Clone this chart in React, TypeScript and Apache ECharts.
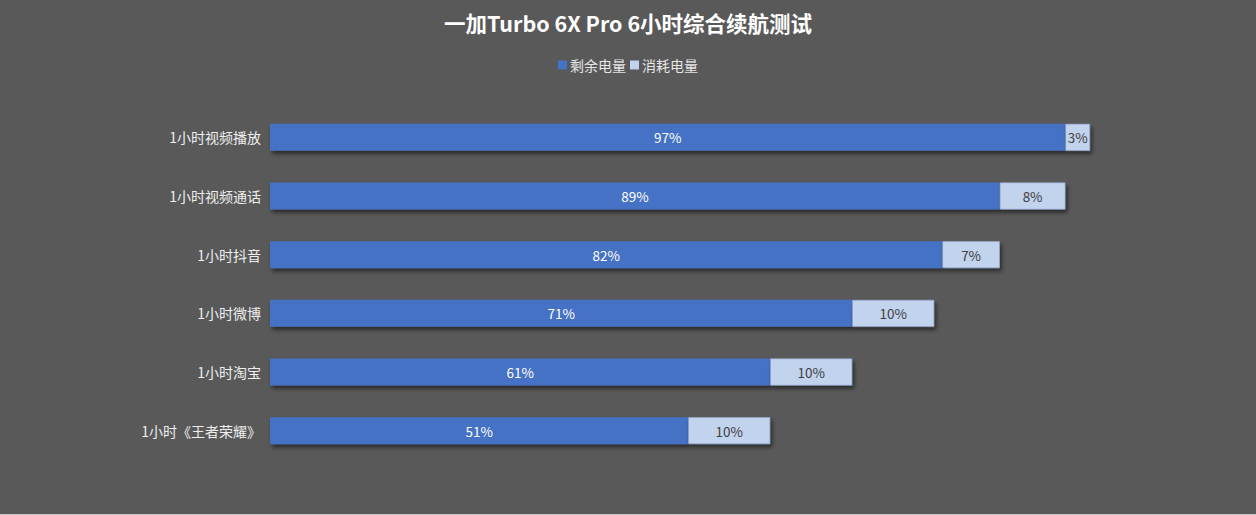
import React, { useEffect, useRef } from "react";
import * as echarts from "echarts";

const categories = [
  "1小时视频播放",
  "1小时视频通话",
  "1小时抖音",
  "1小时微博",
  "1小时淘宝",
  "1小时《王者荣耀》",
];
const remaining = [97, 89, 82, 71, 61, 51];
const consumed = [3, 8, 7, 10, 10, 10];
const seriesNames = ["剩余电量", "消耗电量"];
const titleText = "一加Turbo 6X Pro 6小时综合续航测试";

const FONT = "'Noto Sans CJK SC', 'Noto Sans', sans-serif";

export default function App() {
  const ref = useRef<HTMLDivElement>(null);
  useEffect(() => {
    if (!ref.current) return;
    const chart = echarts.init(ref.current, undefined, { renderer: "svg" });
    const shadow = {
      shadowColor: "rgba(0,0,0,0.55)",
      shadowBlur: 4,
      shadowOffsetX: 2,
      shadowOffsetY: 3,
    };
    chart.setOption({
      animation: false,
      backgroundColor: "#595959",
      textStyle: { fontFamily: FONT },
      title: {
        text: titleText,
        left: "center",
        top: 7,
        textStyle: { color: "#ffffff", fontSize: 21.5, fontWeight: "bold", fontFamily: FONT },
      },
      legend: {
        top: 53,
        left: "center",
        itemWidth: 9,
        itemHeight: 9,
        itemGap: 4,
        icon: "rect",
        itemStyle: { borderWidth: 0, shadowBlur: 0, shadowOffsetX: 0, shadowOffsetY: 0 },
        textStyle: { color: "#e6e6e6", fontSize: 14, fontFamily: FONT, padding: [0, 0, 0, -2] },
        data: seriesNames,
      },
      grid: { left: 270, right: 166, top: 108, height: 352, containLabel: false },
      xAxis: {
        type: "value",
        min: 0,
        max: 100,
        show: false,
      },
      yAxis: {
        type: "category",
        data: categories,
        inverse: true,
        axisLine: { show: false },
        axisTick: { show: false },
        axisLabel: { color: "#eeeeee", fontSize: 14, margin: 9, fontFamily: FONT },
      },
      series: [
        {
          name: seriesNames[0],
          type: "bar",
          stack: "total",
          data: remaining,
          barWidth: 27,
          itemStyle: { color: "#4472C4", ...shadow },
          label: {
            show: true,
            position: "inside",
            color: "#ffffff",
            fontSize: 13.5,
            fontFamily: FONT,
            formatter: "{c}%",
          },
        },
        {
          name: seriesNames[1],
          type: "bar",
          stack: "total",
          data: consumed,
          barWidth: 27,
          itemStyle: {
            color: "#C2D3EE",
            borderColor: "#93A8CE",
            borderWidth: 0.6,
            ...shadow,
          },
          label: {
            show: true,
            position: "inside",
            color: "#404040",
            fontSize: 13.5,
            fontFamily: FONT,
            formatter: "{c}%",
          },
        },
      ],
    });
    return () => chart.dispose();
  }, []);
  return (
    <div
      style={{
        position: "fixed",
        left: 0,
        top: 0,
        width: 1256,
        height: 515,
        background: "#c8c8c8",
      }}
    >
      <div ref={ref} style={{ width: 1256, height: 514 }} />
    </div>
  );
}
